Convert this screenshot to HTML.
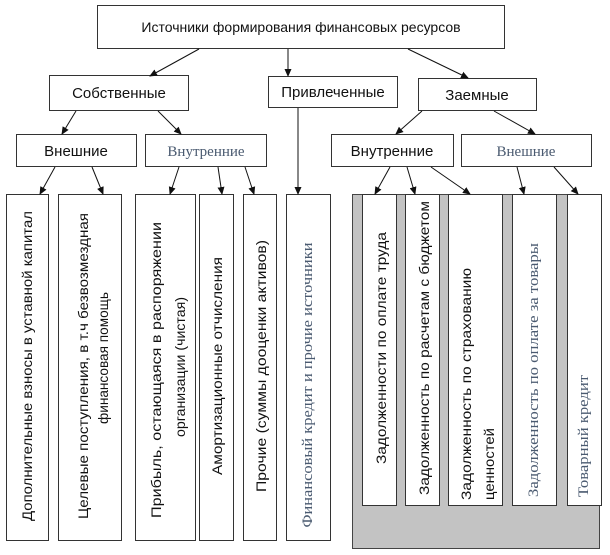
<!DOCTYPE html>
<html><head><meta charset="utf-8"><style>
html,body{margin:0;padding:0;background:#fff;}
svg{display:block;}
text{font-family:"Liberation Sans",sans-serif;font-size:14px;fill:#111;}
.s{font-family:"Liberation Serif",serif;fill:#4a5a70;font-size:15px;}
.h{font-size:15px;}
</style></head><body>
<svg width="610" height="555" viewBox="0 0 610 555" xmlns="http://www.w3.org/2000/svg">
<defs><marker id="a" markerWidth="8" markerHeight="8" refX="7" refY="4" orient="auto" markerUnits="userSpaceOnUse"><path d="M0,0.5 L8,4 L0,7.5z" fill="#111"/></marker></defs>
<g fill="#fff" stroke="#333" stroke-width="1">
<rect x="97.5" y="5.5" width="407" height="43"/>
<rect x="49.5" y="75.5" width="139" height="35"/>
<rect x="268.5" y="76.5" width="129" height="31"/>
<rect x="418.5" y="78.5" width="118" height="32"/>
<rect x="16.5" y="134.5" width="120" height="32"/>
<rect x="145.5" y="134.5" width="121" height="32"/>
<rect x="331.5" y="134.5" width="122" height="32"/>
<rect x="461.5" y="134.5" width="130" height="32"/>
<rect x="6.5" y="194.5" width="42" height="346"/>
<rect x="58.5" y="194.5" width="63" height="346"/>
<rect x="135.5" y="194.5" width="60" height="346"/>
<rect x="199.5" y="194.5" width="34" height="346"/>
<rect x="243.5" y="194.5" width="33" height="346"/>
<rect x="286.5" y="194.5" width="44" height="346"/>
<rect x="352.5" y="194.5" width="247" height="354" fill="#c3c3c3" stroke="#444"/>
<rect x="362.5" y="194.5" width="34" height="311"/>
<rect x="405.5" y="194.5" width="34" height="311"/>
<rect x="448.5" y="194.5" width="54" height="311"/>
<rect x="512.5" y="194.5" width="44" height="311"/>
<rect x="567.5" y="194.5" width="34" height="311"/>
</g>
<g stroke="#111" stroke-width="1" marker-end="url(#a)">
<line x1="199" y1="49" x2="150" y2="76"/>
<line x1="288" y1="49" x2="288" y2="76"/>
<line x1="408" y1="49" x2="468" y2="78"/>
<line x1="76" y1="111" x2="62" y2="134"/>
<line x1="158" y1="111" x2="181" y2="134"/>
<line x1="422" y1="111" x2="396" y2="134"/>
<line x1="494" y1="111" x2="535" y2="134"/>
<line x1="55" y1="167" x2="40" y2="194"/>
<line x1="92" y1="167" x2="103" y2="194"/>
<line x1="179" y1="167" x2="170" y2="194"/>
<line x1="218" y1="167" x2="222" y2="194"/>
<line x1="245" y1="167" x2="254" y2="194"/>
<line x1="298" y1="108" x2="298" y2="194"/>
<line x1="390" y1="167" x2="375" y2="194"/>
<line x1="407" y1="167" x2="415" y2="194"/>
<line x1="431" y1="167" x2="470" y2="194"/>
<line x1="517" y1="167" x2="524" y2="194"/>
<line x1="554" y1="167" x2="578" y2="194"/>
</g>
<g text-anchor="middle">
<text x="301" y="32" font-size="16">Источники формирования финансовых ресурсов</text>
<text class="h" x="119" y="98">Собственные</text>
<text class="h" x="333" y="97">Привлеченные</text>
<text class="h" x="477" y="100">Заемные</text>
<text class="h" x="76" y="156">Внешние</text>
<text x="206" y="156" class="s" font-size="16">Внутренние</text>
<text class="h" x="392" y="156">Внутренние</text>
<text x="526" y="156" class="s" font-size="16">Внешние</text>
</g>
<g text-anchor="middle">
<text transform="translate(32,366) rotate(-90)" textLength="310" lengthAdjust="spacingAndGlyphs">Дополнительные взносы в уставной капитал</text>
<text transform="translate(88,366) rotate(-90)" textLength="306" lengthAdjust="spacingAndGlyphs">Целевые поступления, в т.ч безвозмездная</text>
<text transform="translate(108,358) rotate(-90)" textLength="132" lengthAdjust="spacingAndGlyphs">финансовая помощь</text>
<text transform="translate(161,370) rotate(-90)" textLength="296" lengthAdjust="spacingAndGlyphs">Прибыль, остающаяся в распоряжении</text>
<text transform="translate(185,367) rotate(-90)" textLength="140" lengthAdjust="spacingAndGlyphs">организации (чистая)</text>
<text transform="translate(222,366) rotate(-90)" textLength="218" lengthAdjust="spacingAndGlyphs">Амортизационные отчисления</text>
<text transform="translate(266,366) rotate(-90)" textLength="252" lengthAdjust="spacingAndGlyphs">Прочие (суммы дооценки активов)</text>
<text class="s" transform="translate(312,385) rotate(-90)" textLength="285" lengthAdjust="spacingAndGlyphs">Финансовый кредит и прочие источники</text>
<text transform="translate(386,348) rotate(-90)" textLength="232" lengthAdjust="spacingAndGlyphs">Задолженности по оплате труда</text>
<text transform="translate(429,348) rotate(-90)" textLength="294" lengthAdjust="spacingAndGlyphs">Задолженность по расчетам с бюджетом</text>
</g>
<text transform="translate(471,500) rotate(-90)" textLength="232" lengthAdjust="spacingAndGlyphs">Задолженность по страхованию</text>
<text transform="translate(494,500) rotate(-90)" textLength="72" lengthAdjust="spacingAndGlyphs">ценностей</text>
<text class="s" transform="translate(538,497) rotate(-90)" textLength="254" lengthAdjust="spacingAndGlyphs">Задолженность по оплате за товары</text>
<text class="s" transform="translate(588,497) rotate(-90)" textLength="122" lengthAdjust="spacingAndGlyphs">Товарный кредит</text>
</svg>
</body></html>
